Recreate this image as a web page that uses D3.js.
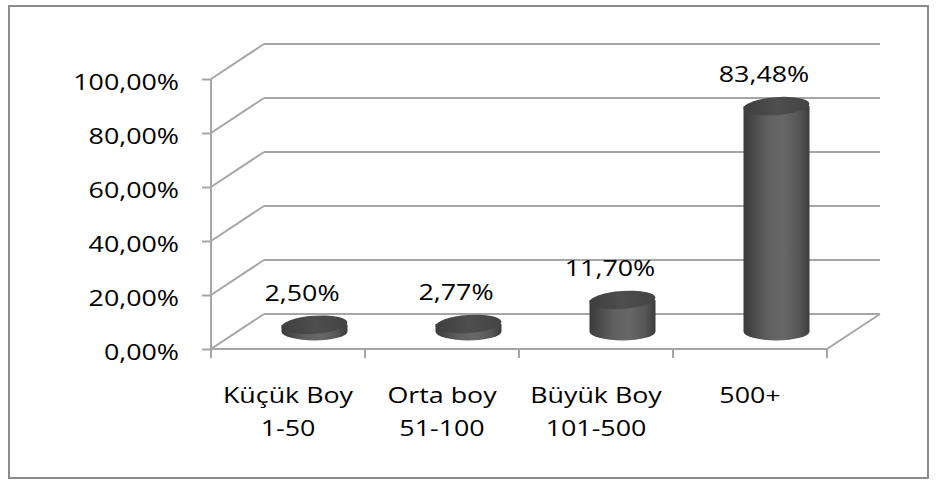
<!DOCTYPE html>
<html>
<head>
<meta charset="utf-8">
<script src="https://cdn.jsdelivr.net/npm/d3@7"></script>
<style>
  html, body { margin: 0; padding: 0; background: #fff; }
  #chart { width: 936px; height: 480px; }
  text { font-family: "Open Sans", sans-serif; fill: #000; }
</style>
</head>
<body>
<div id="chart"></div>
<script>
// dati del grafico
const categories = ["Küçük Boy\n1-50", "Orta boy\n51-100", "Büyük Boy\n101-500", "500+"];
const values = [2.50, 2.77, 11.70, 83.48];
const yTicks = [0, 20, 40, 60, 80, 100];

const width = 936, height = 480;
const depth = { dx: 53, dy: -35 }; // profondità 3D
const stretch = 1.22; // il testo originale è allungato in orizzontale
const fontSize = '22px';
const gridColor = '#a6a6a6';

const svg = d3.select('#chart').append('svg')
    .attr('width', width)
    .attr('height', height);

// cornice esterna
svg.append('rect')
    .attr('x', 9).attr('y', 6)
    .attr('width', 919).attr('height', 472)
    .attr('fill', 'none')
    .attr('stroke', '#8c8c8c')
    .attr('stroke-width', 2);

const x = d3.scaleBand().domain(categories).range([211, 827]);
const y = d3.scaleLinear().domain([0, 100]).range([349, 79]);

const fmt = v => v.toFixed(2).replace('.', ',') + '%';

// gradienti per i cilindri
const defs = svg.append('defs');
const bodyGrad = defs.append('linearGradient').attr('id', 'body')
    .attr('x1', '0%').attr('x2', '100%').attr('y1', '0%').attr('y2', '0%');
[['0%', '#3a3a3a'], ['35%', '#5f5f5f'], ['60%', '#686868'], ['85%', '#555'], ['100%', '#3c3c3c']]
    .forEach(s => bodyGrad.append('stop').attr('offset', s[0]).attr('stop-color', s[1]));
const capGrad = defs.append('linearGradient').attr('id', 'cap')
    .attr('x1', '0%').attr('x2', '100%').attr('y1', '0%').attr('y2', '0%');
[['0%', '#3e3e3e'], ['50%', '#4e4e4e'], ['100%', '#444']]
    .forEach(s => capGrad.append('stop').attr('offset', s[0]).attr('stop-color', s[1]));

// griglia: parete di fondo e parete laterale
const grid = svg.append('g')
    .attr('stroke', gridColor)
    .attr('stroke-width', 2)
    .attr('fill', 'none');

yTicks.forEach(t => {
    grid.append('line')
        .attr('x1', x.range()[0] + depth.dx).attr('y1', y(t) + depth.dy)
        .attr('x2', x.range()[1] + depth.dx).attr('y2', y(t) + depth.dy);
    grid.append('line')
        .attr('x1', x.range()[0]).attr('y1', y(t))
        .attr('x2', x.range()[0] + depth.dx).attr('y2', y(t) + depth.dy);
});

// pavimento: bordo anteriore e diagonale destra
grid.append('line')
    .attr('x1', x.range()[0]).attr('y1', y(0))
    .attr('x2', x.range()[1]).attr('y2', y(0));
grid.append('line')
    .attr('x1', x.range()[1]).attr('y1', y(0))
    .attr('x2', x.range()[1] + depth.dx).attr('y2', y(0) + depth.dy);

// asse Y
const yAxis = svg.append('g')
    .attr('transform', `translate(${x.range()[0]},0)`)
    .call(d3.axisLeft(y).tickValues(yTicks).tickSize(9).tickSizeOuter(0).tickFormat(fmt));
yAxis.select('.domain').attr('stroke', gridColor).attr('stroke-width', 2)
    .attr('d', `M0,${y(100)}V${y(0) + 5}`);
yAxis.selectAll('.tick line').attr('stroke', gridColor).attr('stroke-width', 2);
yAxis.selectAll('.tick text')
    .attr('x', 0).attr('dy', null)
    .attr('transform', `translate(-32,10) scale(${stretch},1)`)
    .style('font-size', fontSize)
    .style('font-family', '"Open Sans", sans-serif')
    .attr('fill', '#000');

// asse X: tacche
const xTicks = categories.map(c => x(c)).concat([x.range()[1]]);
svg.append('g').selectAll('line')
    .data(xTicks)
    .join('line')
    .attr('x1', d => d).attr('x2', d => d)
    .attr('y1', y(0)).attr('y2', y(0) + 9)
    .attr('stroke', gridColor)
    .attr('stroke-width', 2);

// etichette delle categorie
categories.forEach(c => {
    const lines = c.split('\n');
    lines.forEach((line, i) => {
        svg.append('text')
            .attr('transform', `translate(${x(c) + x.bandwidth() / 2},${403 + i * 33}) scale(${stretch},1)`)
            .attr('text-anchor', 'middle')
            .style('font-size', fontSize)
            .text(line);
    });
});

// cilindri
const rx = 33, ry = 9;
const bars = svg.append('g');
categories.forEach((c, i) => {
    const cx = x(c) + x.bandwidth() / 2 + depth.dx / 2;
    const base = y(0) + depth.dy / 2;
    const tip = y(values[i]) + depth.dy / 2;

    bars.append('path')
        .attr('d', `M${cx - rx},${tip} L${cx - rx},${base} A${rx},${ry} 0 0 0 ${cx + rx},${base} L${cx + rx},${tip} Z`)
        .attr('fill', 'url(#body)');

    bars.append('ellipse')
        .attr('cx', cx).attr('cy', tip)
        .attr('rx', rx).attr('ry', ry)
        .attr('transform', `rotate(-4,${cx},${tip})`)
        .attr('fill', 'url(#cap)');

    // etichetta del valore
    svg.append('text')
        .attr('transform', `translate(${x(c) + x.bandwidth() / 2 + 14},${tip - ry - 15}) scale(${stretch},1)`)
        .attr('text-anchor', 'middle')
        .style('font-size', fontSize)
        .text(fmt(values[i]));
});
</script>
</body>
</html>
